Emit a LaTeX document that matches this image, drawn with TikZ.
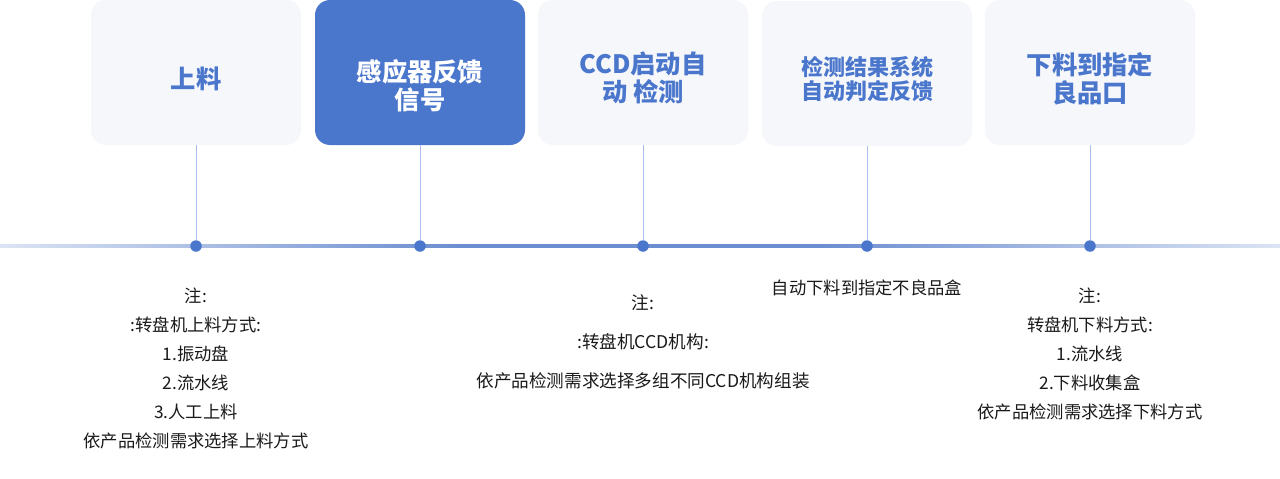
\documentclass[tikz,border=0pt]{standalone}
\usepackage{fontspec}
\setmainfont{Noto Sans CJK SC}
\definecolor{boxbg}{HTML}{F5F7FB}
\definecolor{mainblue}{HTML}{4A76CC}
\definecolor{stemcol}{HTML}{AABFE9}
\definecolor{lineend}{HTML}{DCE4F3}
\definecolor{linemid}{HTML}{6C8DD0}
\definecolor{notetext}{HTML}{1A1A1A}
\pgfdeclarehorizontalshading{timelineshade}{100bp}{color(0bp)=(lineend); color(25bp)=(lineend); color(43bp)=(linemid); color(57bp)=(linemid); color(75bp)=(lineend); color(100bp)=(lineend)}
\begin{document}
\begin{tikzpicture}[x=1pt,y=-1pt,
  box/.style={rounded corners=15pt, minimum width=210pt, minimum height=145pt, fill=boxbg, inner sep=0pt, draw=none},
  boxhi/.style={box, fill=mainblue},
  title/.style={font=\fontsize{25.3}{28}\selectfont\bfseries, text=mainblue, align=center, inner sep=0pt},
  titlehi/.style={title, text=white},
  titlesmall/.style={title, font=\fontsize{22}{24}\selectfont\bfseries},
  dot/.style={circle, fill=mainblue, minimum size=11.5pt, inner sep=0pt},
  stem/.style={draw=stemcol, line width=0.9pt},
  note/.style={font=\fontsize{17.3}{29}\selectfont, align=center, text=notetext, inner sep=0pt},
  notewide/.style={note, font=\fontsize{17.6}{39}\selectfont}
]
\useasboundingbox (0,0) rectangle (1280,479);
\fill[white] (0,0) rectangle (1280,479);

% timeline
\shade[shading=timelineshade] (0,244.5) rectangle (1280,247.5);

% boxes
\node[box]   (b1) at (196,72.5) {};
\node[boxhi] (b2) at (420,72.5) {};
\node[box]   (b3) at (643,72.5) {};
\node[box]   (b4) at (867,73.5) {};
\node[box]   (b5) at (1090,72.5) {};

% titles
\node[title]      (t1) at (196,79) {上料};
\node[titlehi]    (t2) at (420,86) {感应器反馈\\信号};
\node[title]      (t3) at (643,78) {CCD启动自\\动 检测};
\node[titlesmall] (t4) at (867,79) {检测结果系统\\自动判定反馈};
\node[title]      (t5) at (1090,79) {下料到指定\\良品口};

% dots
\node[dot] (d1) at (196,246) {};
\node[dot] (d2) at (420,246) {};
\node[dot] (d3) at (643,246) {};
\node[dot] (d4) at (867,246) {};
\node[dot] (d5) at (1090,246) {};

% stems
\draw[stem] (b1.south) -- (d1.north);
\draw[stem] (b2.south) -- (d2.north);
\draw[stem] (b3.south) -- (d3.north);
\draw[stem] (b4.south) -- (d4.north);
\draw[stem] (b5.south) -- (d5.north);

% notes
\node[note] (n1) at (196,368) {注:\\:转盘机上料方式:\\1.振动盘\\2.流水线\\3.人工上料\\依产品检测需求选择上料方式};
\node[notewide] (n3) at (643,342) {注:\\:转盘机CCD机构:\\依产品检测需求选择多组不同CCD机构组装};
\node[note] (n4) at (867,288) {自动下料到指定不良品盒};
\node[note] (n5) at (1090,353.5) {注:\\转盘机下料方式:\\1.流水线\\2.下料收集盒\\依产品检测需求选择下料方式};
\end{tikzpicture}
\end{document}
